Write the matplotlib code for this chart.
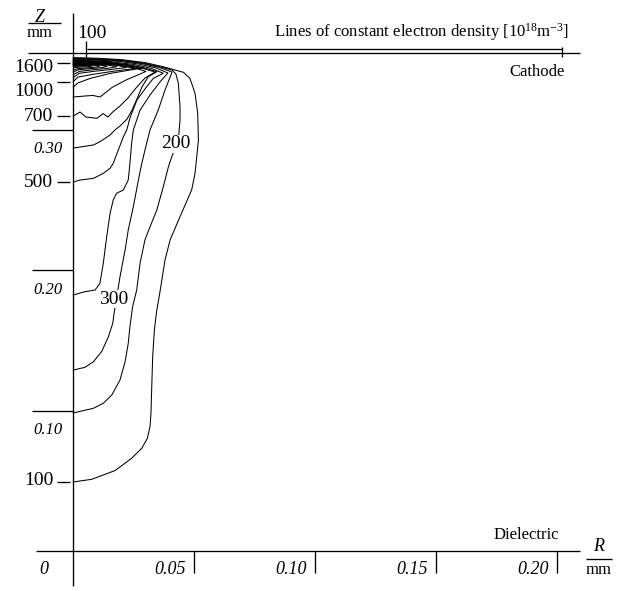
import matplotlib
matplotlib.use("Agg")
from matplotlib import pyplot as plt

plt.rcParams['font.family'] = ['Liberation Serif', 'DejaVu Serif']
plt.rcParams['mathtext.fontset'] = 'custom'
plt.rcParams['mathtext.rm'] = 'Liberation Serif'
plt.rcParams['mathtext.it'] = 'Liberation Serif:italic'

# contour lines of constant electron density, R and Z in mm
levels = [100, 200, 300, 400, 500, 600, 700, 800, 900, 1000, 1100, 1200, 1300, 1400, 1500, 1600]

c100_r = [0, 0.0076, 0.0172, 0.0200, 0.0241, 0.0283, 0.0306, 0.0317, 0.0321, 0.0325, 0.0328, 0.0335, 0.0345,
          0.0356, 0.0379, 0.0400, 0.0441, 0.0489, 0.0503, 0.0510, 0.0517, 0.0514, 0.0503, 0.0482, 0.0455, 0.0427,
          0.0380, 0.0300, 0.0200, 0.0100, 0]
c100_z = [0.0492, 0.0511, 0.0573, 0.0608, 0.0661, 0.0732, 0.0803, 0.0886, 0.0984, 0.1219, 0.1385, 0.1575, 0.1718,
          0.1825, 0.2074, 0.2217, 0.2383, 0.2573, 0.2692, 0.2810, 0.2929, 0.3120, 0.3262, 0.3369, 0.3412, 0.3425,
          0.3448, 0.3480, 0.3502, 0.3512, 0.3517]

c200_r = [0, 0.0083, 0.0124, 0.0159, 0.0193, 0.0214, 0.0227, 0.0234, 0.0245, 0.0262, 0.0276, 0.0296, 0.0317,
          0.0345, 0.0372, 0.0393, 0.0407, 0.0420, 0.0434, 0.0441, 0.0441, 0.0434, 0.0424, 0.0408, 0.0360, 0.0290,
          0.0200, 0.0100, 0]
c200_z = [0.0984, 0.1017, 0.1053, 0.1112, 0.1219, 0.1349, 0.1480, 0.1599, 0.1741, 0.1860, 0.2053, 0.2217, 0.2311,
          0.2430, 0.2597, 0.2739, 0.2810, 0.2872, 0.2929, 0.3072, 0.3167, 0.3334, 0.3400, 0.3428, 0.3450, 0.3478,
          0.3498, 0.3508, 0.3512]

c300_r = [0, 0.0048, 0.0083, 0.0117, 0.0145, 0.0163, 0.0169, 0.0181, 0.0193, 0.0214, 0.0227, 0.0248, 0.0269,
          0.0283, 0.0303, 0.0317, 0.0351, 0.0379, 0.0400, 0.0408, 0.0355, 0.0285, 0.0200, 0.0100, 0]
c300_z = [0.1290, 0.1309, 0.1349, 0.1421, 0.1527, 0.1623, 0.1699, 0.1825, 0.1955, 0.2145, 0.2288, 0.2454, 0.2644,
          0.2763, 0.2906, 0.3001, 0.3143, 0.3286, 0.3378, 0.3414, 0.3447, 0.3474, 0.3494, 0.3503, 0.3507]

c400_r = [0, 0.0048, 0.0090, 0.0110, 0.0124, 0.0138, 0.0152, 0.0165, 0.0179, 0.0207, 0.0227, 0.0234, 0.0241,
          0.0248, 0.0276, 0.0317, 0.0358, 0.0391, 0.0340, 0.0270, 0.0190, 0.0090, 0]
c400_z = [0.1825, 0.1848, 0.1860, 0.1908, 0.2051, 0.2240, 0.2407, 0.2502, 0.2550, 0.2573, 0.2644, 0.2763, 0.2906,
          0.3001, 0.3143, 0.3250, 0.3343, 0.3407, 0.3444, 0.3471, 0.3490, 0.3499, 0.3503]

c500_r = [0, 0.0028, 0.0083, 0.0124, 0.0152, 0.0165, 0.0186, 0.0207, 0.0221, 0.0234, 0.0263, 0.0303, 0.0331,
          0.0372, 0.0320, 0.0250, 0.0150, 0.0070, 0]
c500_z = [0.2630, 0.2644, 0.2656, 0.2692, 0.2728, 0.2763, 0.2858, 0.2953, 0.3001, 0.3086, 0.3215, 0.3309, 0.3369,
          0.3405, 0.3441, 0.3468, 0.3488, 0.3495, 0.3498]

c600_r = [0, 0.0083, 0.0110, 0.0152, 0.0172, 0.0193, 0.0222, 0.0243, 0.0263, 0.0284, 0.0310, 0.0345, 0.0300,
          0.0230, 0.0140, 0.0060, 0]
c600_z = [0.2872, 0.2894, 0.2917, 0.2965, 0.3001, 0.3029, 0.3079, 0.3143, 0.3222, 0.3309, 0.3381, 0.3416, 0.3440,
          0.3465, 0.3485, 0.3491, 0.3494]

c700_r = [0, 0.0028, 0.0052, 0.0098, 0.0123, 0.0143, 0.0164, 0.0193, 0.0226, 0.0259, 0.0296, 0.0338, 0.0290,
          0.0210, 0.0130, 0.0050, 0]
c700_z = [0.3101, 0.3129, 0.3093, 0.3084, 0.3118, 0.3093, 0.3131, 0.3172, 0.3229, 0.3300, 0.3371, 0.3414, 0.3438,
          0.3464, 0.3482, 0.3488, 0.3490]

c800_r = [0, 0.0048, 0.0081, 0.0110, 0.0131, 0.0160, 0.0218, 0.0276, 0.0300, 0.0250, 0.0170, 0.0090, 0.0030, 0]
c800_z = [0.3236, 0.3243, 0.3247, 0.3236, 0.3264, 0.3304, 0.3357, 0.3400, 0.3418, 0.3445, 0.3470, 0.3481, 0.3485,
          0.3487]

c900_r = [0, 0.0019, 0.0069, 0.0152, 0.0234, 0.0288, 0.0230, 0.0150, 0.0070, 0]
c900_z = [0.3307, 0.3336, 0.3368, 0.3404, 0.3428, 0.3443, 0.3462, 0.3476, 0.3481, 0.3483]

c1000_r = [0, 0.0019, 0.0090, 0.0172, 0.0255, 0.0200, 0.0120, 0.0050, 0]
c1000_z = [0.3346, 0.3378, 0.3400, 0.3421, 0.3439, 0.3460, 0.3473, 0.3478, 0.3480]

c1100_r = [0, 0.0025, 0.0090, 0.0160, 0.0220, 0.0180, 0.0100, 0.0040, 0]
c1100_z = [0.3375, 0.3405, 0.3420, 0.3433, 0.3446, 0.3462, 0.3471, 0.3475, 0.3476]

c1200_r = [0, 0.0025, 0.0080, 0.0140, 0.0180, 0.0140, 0.0080, 0.0030, 0]
c1200_z = [0.3396, 0.3418, 0.3430, 0.3440, 0.3452, 0.3464, 0.3470, 0.3472, 0.3473]

c1300_r = [0, 0.0020, 0.0070, 0.0120, 0.0140, 0.0110, 0.0060, 0]
c1300_z = [0.3414, 0.3430, 0.3438, 0.3446, 0.3455, 0.3464, 0.3468, 0.3470]

c1400_r = [0, 0.0020, 0.0060, 0.0100, 0.0110, 0.0080, 0.0040, 0]
c1400_z = [0.3428, 0.3438, 0.3444, 0.3450, 0.3458, 0.3463, 0.3466, 0.3467]

c1500_r = [0, 0.0020, 0.0060, 0.0080, 0.0060, 0.0020, 0]
c1500_z = [0.3443, 0.3448, 0.3452, 0.3457, 0.3461, 0.3463, 0.3464]

c1600_r = [0, 0.0020, 0.0045, 0.0050, 0.0030, 0]
c1600_z = [0.3453, 0.3455, 0.3457, 0.3459, 0.3461, 0.3461]

contours = [(c100_r, c100_z), (c200_r, c200_z), (c300_r, c300_z), (c400_r, c400_z), (c500_r, c500_z),
            (c600_r, c600_z), (c700_r, c700_z), (c800_r, c800_z), (c900_r, c900_z), (c1000_r, c1000_z),
            (c1100_r, c1100_z), (c1200_r, c1200_z), (c1300_r, c1300_z), (c1400_r, c1400_z),
            (c1500_r, c1500_z), (c1600_r, c1600_z)]

# level labels along the axis (tick height, text height)
side_labels = ['1600', '1000', '700', '500', '100']
side_tick_z = [0.3478, 0.3343, 0.3097, 0.2630, 0.0492]
side_text_z = [0.3443, 0.3274, 0.3097, 0.2630, 0.0506]

# labels written on the lines
inline_labels = ['200', '300']
inline_r = [0.0424, 0.0165]
inline_z = [0.2901, 0.1796]

r_ticks = [0.05, 0.10, 0.15, 0.20]
r_ticklabels = ['0.05', '0.10', '0.15', '0.20']
z_ticks = [0.10, 0.20, 0.30]
z_ticklabels = ['0.10', '0.20', '0.30']

z_cathode = 0.3552
z_cathode_top = 0.3576
r_end = 0.2094
r_cathode_end = 0.2018

fig = plt.figure(figsize=(6.24, 5.91), dpi=100)
ax = fig.add_axes([0, 0, 1, 1])
ax.set_xlim(-0.03029, 0.22756)
ax.set_ylim(-0.02851, 0.39273)
ax.axis('off')

lw_axis = 0.95
kw = dict(color='black', lw=lw_axis, solid_capstyle='butt')

# frame: axis, dielectric and cathode
ax.plot([0, 0], [-0.0249, 0.3835], **kw)
ax.plot([-0.0154, r_end], [0, 0], **kw)
ax.plot([-0.0187, r_end], [z_cathode, z_cathode], **kw)
ax.plot([0.0057, r_cathode_end], [z_cathode_top, z_cathode_top], **kw)
ax.plot([r_cathode_end, r_cathode_end], [0.3521, 0.3592], **kw)
ax.plot([0.0052, 0.0052], [0.3523, 0.3637], **kw)

for rt, lab in zip(r_ticks, r_ticklabels):
    ax.plot([rt, rt], [0, -0.0157], **kw)
    ax.text(rt - 0.0035, -0.0135, lab, ha='right', va='center', fontsize=13, style='italic')
ax.text(-0.0121, -0.0135, '0', ha='center', va='center', fontsize=13, style='italic')

for zt, lab in zip(z_ticks, z_ticklabels):
    ax.plot([-0.0171, 0], [zt, zt], **kw)
    ax.text(-0.0105, zt - 0.0138, lab, ha='center', va='center', fontsize=12, style='italic')

for lab, zt, ztxt in zip(side_labels, side_tick_z, side_text_z):
    ax.plot([-0.0068, -0.0012], [zt, zt], **kw)
    ax.text(-0.0082, ztxt, lab, ha='right', va='center', fontsize=14)

# contour lines
for r, z in contours:
    ax.plot(r, z, color='black', lw=0.75, zorder=2)

for lab, r, z in zip(inline_labels, inline_r, inline_z):
    ax.text(r, z, lab, ha='center', va='center', fontsize=14, zorder=3,
            bbox=dict(facecolor='white', edgecolor='none', pad=0.6))

ax.text(0.0075, 0.3692, '100', ha='center', va='center', fontsize=14)

# axis names
ax.text(-0.0138, 0.3806, 'Z', ha='center', va='center', fontsize=13, style='italic')
ax.plot([-0.0187, -0.0051], [0.3763, 0.3763], **kw)
ax.text(-0.0138, 0.3692, 'mm', ha='center', va='center', fontsize=12)

ax.text(0.2169, 0.0029, 'R', ha='center', va='center', fontsize=13, style='italic')
ax.plot([0.2119, 0.2225], [-0.0057, -0.0057], **kw)
ax.text(0.2172, -0.0135, 'mm', ha='center', va='center', fontsize=12)

ax.text(0.1440, 0.3697, r'Lines of constant electron density [10$^{18}$m$^{-3}$]',
        ha='center', va='center', fontsize=12)
ax.text(0.1916, 0.3414, 'Cathode', ha='center', va='center', fontsize=12)
ax.text(0.1871, 0.0114, 'Dielectric', ha='center', va='center', fontsize=12)

fig.savefig('out.png', dpi=100)
